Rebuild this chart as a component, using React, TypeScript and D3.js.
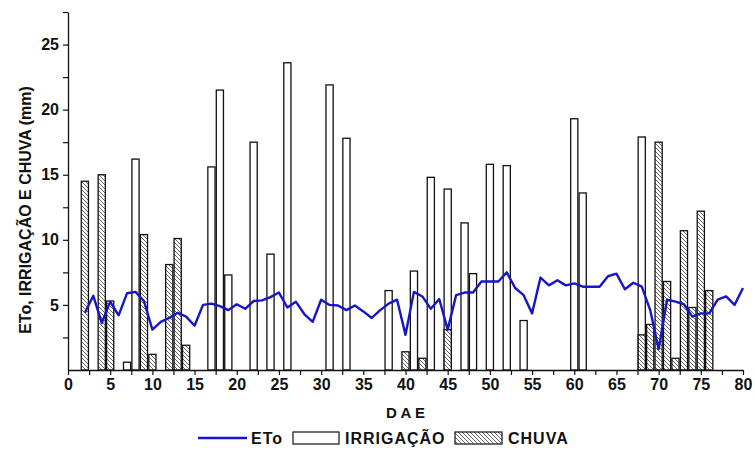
import React, { useRef, useEffect } from "react";
import * as d3 from "d3";

// daily reference evapotranspiration (mm), days after emergence 2..80
const etoDays = [
  2, 3, 4, 5, 6, 7, 8, 9, 10, 11, 12, 13, 14, 15, 16, 17, 18, 19, 20, 21,
  22, 23, 24, 25, 26, 27, 28, 29, 30, 31, 32, 33, 34, 35, 36, 37, 38, 39, 40,
  41, 42, 43, 44, 45, 46, 47, 48, 49, 50, 51, 52, 53, 54, 55, 56, 57, 58, 59,
  60, 61, 62, 63, 64, 65, 66, 67, 68, 69, 70, 71, 72, 73, 74, 75, 76, 77, 78,
  79, 80,
];
const etoValues = [
  4.4, 5.7, 3.6, 5.25, 4.2, 5.9, 6.0, 5.3, 3.1, 3.7, 4.0, 4.4, 4.1, 3.4, 5.0,
  5.1, 4.9, 4.6, 5.05, 4.7, 5.3, 5.35, 5.6, 5.95, 4.8, 5.25, 4.3, 3.7, 5.4,
  5.0, 4.95, 4.6, 4.95, 4.5, 4.0, 4.6, 5.1, 5.4, 2.7, 6.0, 5.65, 4.7, 5.45,
  3.1, 5.75, 5.95, 5.95, 6.8, 6.8, 6.8, 7.5, 6.3, 5.75, 4.35, 7.1, 6.5, 6.9,
  6.5, 6.65, 6.4, 6.4, 6.4, 7.2, 7.4, 6.2, 6.7, 6.4, 4.6, 1.6, 5.4, 5.25,
  5.05, 4.1, 4.35, 4.35, 5.4, 5.65, 5.0, 6.3,
];

// irrigation depths (mm)
const irrigDays = [7, 8, 17, 18, 19, 22, 24, 26, 31, 33, 38, 41, 43, 45, 47, 48, 50, 52, 54, 60, 61, 68];
const irrigValues = [0.6, 16.2, 15.6, 21.5, 7.3, 17.5, 8.9, 23.6, 21.9, 17.8, 6.1, 7.6, 14.8, 13.9, 11.3, 7.4, 15.8, 15.7, 3.8, 19.3, 13.6, 17.9];

// rainfall (mm)
const rainDays = [2, 4, 5, 9, 10, 12, 13, 14, 40, 42, 45, 68, 69, 70, 71, 72, 73, 74, 75, 76];
const rainValues = [14.5, 15.0, 5.3, 10.4, 1.2, 8.1, 10.1, 1.9, 1.4, 0.9, 3.1, 2.7, 3.5, 17.5, 6.8, 0.9, 10.7, 4.8, 12.2, 6.1];

const xMajorTicks = [0, 5, 10, 15, 20, 25, 30, 35, 40, 45, 50, 55, 60, 65, 70, 75, 80];
const yMajorTicks = [5, 10, 15, 20, 25];

const FONT = "'Liberation Sans', Arial, sans-serif";
const BLUE = "#1616c8";

function Chart() {
  const svgRef = useRef(null);

  useEffect(() => {
    const svg = d3.select(svgRef.current);
    svg.selectAll("*").remove();

    const left = 68;
    const right = 743;
    const top = 12;
    const bottom = 370;

    const x = d3.scaleLinear().domain([0, 80]).range([left, right]);
    const y = d3.scaleLinear().domain([0, 27.5]).range([bottom, top]);
    const barW = x(0.85) - x(0);

    // hatch pattern for rain bars
    const defs = svg.append("defs");
    const pat = defs
      .append("pattern")
      .attr("id", "hatch")
      .attr("patternUnits", "userSpaceOnUse")
      .attr("width", 4)
      .attr("height", 4);
    pat.append("rect").attr("width", 4).attr("height", 4).attr("fill", "white");
    pat
      .append("path")
      .attr("d", "M-1,-1 L5,5 M-1,3 L1,5 M3,-1 L5,1")
      .attr("stroke", "#222")
      .attr("stroke-width", 0.7);

    // irrigation bars (behind)
    svg
      .append("g")
      .selectAll("rect")
      .data(irrigDays.map((d, i) => ({ d, v: irrigValues[i] })))
      .enter()
      .append("rect")
      .attr("x", (p) => x(p.d) - barW / 2)
      .attr("y", (p) => y(p.v))
      .attr("width", barW)
      .attr("height", (p) => y(0) - y(p.v))
      .attr("fill", "white")
      .attr("stroke", "#111")
      .attr("stroke-width", 1.3);

    // rain bars
    svg
      .append("g")
      .selectAll("rect")
      .data(rainDays.map((d, i) => ({ d, v: rainValues[i] })))
      .enter()
      .append("rect")
      .attr("x", (p) => x(p.d) - barW / 2)
      .attr("y", (p) => y(p.v))
      .attr("width", barW)
      .attr("height", (p) => y(0) - y(p.v))
      .attr("fill", "url(#hatch)")
      .attr("stroke", "#111")
      .attr("stroke-width", 1.3);

    // ETo line
    const line = d3
      .line()
      .x((d) => x(d[0]))
      .y((d) => y(d[1]));
    svg
      .append("path")
      .datum(etoDays.map((d, i) => [d, etoValues[i]]))
      .attr("d", line)
      .attr("fill", "none")
      .attr("stroke", BLUE)
      .attr("stroke-width", 2.4)
      .attr("stroke-linejoin", "round");

    // x axis
    const xMinor = xMajorTicks.slice(0, -1).map((t) => t + 2.5);
    svg
      .append("g")
      .attr("transform", `translate(0,${bottom})`)
      .call(d3.axisBottom(x).tickValues(xMinor).tickSize(5).tickFormat(() => ""))
      .call((g) => g.select(".domain").remove());
    const xAxis = svg
      .append("g")
      .attr("transform", `translate(0,${bottom})`)
      .call(d3.axisBottom(x).tickValues(xMajorTicks).tickSize(5).tickSizeOuter(0).tickPadding(4));
    xAxis.select(".domain").attr("stroke", "#111").attr("stroke-width", 1.3);
    xAxis
      .selectAll("text")
      .attr("font-family", FONT)
      .attr("font-weight", "bold")
      .attr("font-size", 16)
      .attr("fill", "#111");

    // y axis
    const yMinor = [2.5, 7.5, 12.5, 17.5, 22.5, 27.5];
    svg
      .append("g")
      .attr("transform", `translate(${left},0)`)
      .call(d3.axisLeft(y).tickValues(yMinor).tickSize(5).tickFormat(() => ""))
      .call((g) => g.select(".domain").remove());
    const yAxis = svg
      .append("g")
      .attr("transform", `translate(${left},0)`)
      .call(d3.axisLeft(y).tickValues(yMajorTicks).tickSize(5).tickSizeOuter(0).tickPadding(4));
    yAxis.select(".domain").attr("stroke", "#111").attr("stroke-width", 1.3);
    yAxis
      .selectAll("text")
      .attr("font-family", FONT)
      .attr("font-weight", "bold")
      .attr("font-size", 16)
      .attr("fill", "#111");
    svg.selectAll(".tick line").attr("stroke", "#111").attr("stroke-width", 1.2);

    // axis titles
    svg
      .append("text")
      .attr("x", (left + right) / 2)
      .attr("y", 418)
      .attr("text-anchor", "middle")
      .attr("font-family", FONT)
      .attr("font-weight", "bold")
      .attr("font-size", 15)
      .attr("fill", "#111")
      .text("D A E");

    svg
      .append("text")
      .attr("transform", `translate(31,210) rotate(-90)`)
      .attr("text-anchor", "middle")
      .attr("font-family", FONT)
      .attr("font-weight", "bold")
      .attr("font-size", 16)
      .attr("fill", "#111")
      .text("ETo, IRRIGAÇÃO E CHUVA (mm)");

    // legend
    const leg = svg.append("g").attr("transform", "translate(0,438)");
    leg
      .append("line")
      .attr("x1", 198)
      .attr("x2", 247)
      .attr("stroke", BLUE)
      .attr("stroke-width", 2.4);
    const legText = (tx, label) =>
      leg
        .append("text")
        .attr("x", tx)
        .attr("y", 6)
        .attr("font-family", FONT)
        .attr("font-weight", "bold")
        .attr("font-size", 16)
        .attr("letter-spacing", 1)
        .attr("fill", "#111")
        .text(label);
    legText(251, "ETo");
    leg
      .append("rect")
      .attr("x", 293)
      .attr("y", -6)
      .attr("width", 46)
      .attr("height", 12)
      .attr("fill", "white")
      .attr("stroke", "#111")
      .attr("stroke-width", 1.2);
    legText(345, "IRRIGAÇÃO");
    leg
      .append("rect")
      .attr("x", 455)
      .attr("y", -6)
      .attr("width", 47)
      .attr("height", 12)
      .attr("fill", "url(#hatch)")
      .attr("stroke", "#111")
      .attr("stroke-width", 1.2);
    legText(508, "CHUVA");
  }, []);

  return (
    <svg
      ref={svgRef}
      width={755}
      height={464}
      style={{ position: "absolute", left: 0, top: 0, background: "white" }}
    ></svg>
  );
}

export default function App() {
  return <Chart />;
}
